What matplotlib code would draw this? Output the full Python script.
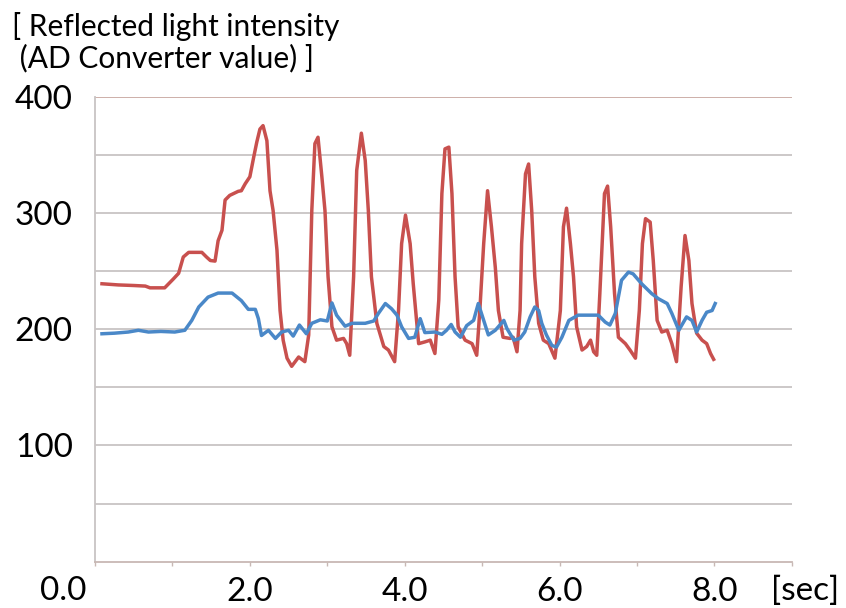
import matplotlib.pyplot as plt
plt.switch_backend('agg')
import numpy as np

plt.rcParams['font.family'] = ['Lato', 'DejaVu Sans']

# red curve : time [sec] / AD value
t_red = [0.09, 0.3, 0.5, 0.65, 0.71, 0.9, 1.01, 1.08, 1.14, 1.21, 1.38, 1.44, 1.49, 1.55,
         1.59, 1.64, 1.68, 1.74, 1.85, 1.89, 1.94, 2.0, 2.05, 2.09, 2.13, 2.17, 2.22, 2.26,
         2.30, 2.35, 2.39, 2.43, 2.48, 2.54, 2.63, 2.71, 2.76, 2.80, 2.84, 2.88, 2.93, 2.97,
         3.01, 3.06, 3.12, 3.21, 3.25, 3.29, 3.34, 3.38, 3.44, 3.49, 3.53, 3.57, 3.64, 3.73,
         3.79, 3.87, 3.92, 3.96, 4.01, 4.07, 4.11, 4.18, 4.26, 4.33, 4.39, 4.44, 4.48, 4.52,
         4.57, 4.61, 4.65, 4.69, 4.78, 4.87, 4.93, 4.97, 5.02, 5.07, 5.12, 5.17, 5.21, 5.27,
         5.36, 5.40, 5.45, 5.49, 5.51, 5.56, 5.60, 5.64, 5.68, 5.73, 5.79, 5.86, 5.94, 6.01,
         6.05, 6.09, 6.14, 6.18, 6.22, 6.29, 6.35, 6.40, 6.44, 6.48, 6.52, 6.58, 6.62, 6.66,
         6.71, 6.76, 6.85, 6.91, 6.98, 7.03, 7.07, 7.11, 7.17, 7.21, 7.26, 7.32, 7.39, 7.45,
         7.51, 7.57, 7.62, 7.67, 7.71, 7.77, 7.84, 7.90, 7.95, 7.99]
red = [239, 238, 237.5, 237, 235.5, 235.5, 243, 248, 262, 266, 266, 262, 259, 258.5,
       276, 285, 311, 315, 318.5, 319, 325, 331, 348, 361, 372, 375, 362, 319,
       302, 268, 216, 190.5, 175, 168, 176, 172, 195, 302, 359.5, 365, 331, 302,
       245, 202, 190.5, 192, 187.5, 177.5, 245, 336.5, 368.5, 345, 302, 245, 205, 185,
       182, 172, 216, 273.5, 298, 273.5, 239, 187.5, 189, 190.5, 179, 225, 316.5, 355,
       356.5, 316.5, 245, 202, 190.5, 187.5, 177.5, 216, 273.5, 319, 288, 253, 216, 193,
       192, 193, 180.5, 216, 273.5, 333.5, 342, 302, 245, 205, 190.5, 187.5, 175, 216,
       288, 304, 273.5, 245, 202, 182, 185, 190.5, 180.5, 177.5, 230.5, 316.5, 323, 288,
       230.5, 193, 187.5, 182, 175, 216, 273.5, 295, 292, 259, 207.5, 197.5, 199, 187.5,
       172, 236.5, 280.5, 259, 222, 196.5, 190.5, 187.5, 179, 174]

# blue curve
t_blue = [0.09, 0.25, 0.43, 0.56, 0.69, 0.85, 1.03, 1.16, 1.25, 1.34, 1.46, 1.59, 1.77, 1.89,
          1.98, 2.07, 2.11, 2.15, 2.24, 2.33, 2.41, 2.50, 2.56, 2.64, 2.73, 2.80, 2.91, 3.00,
          3.06, 3.12, 3.23, 3.32, 3.49, 3.60, 3.66, 3.75, 3.83, 3.90, 3.96, 4.05, 4.13, 4.20,
          4.26, 4.39, 4.48, 4.54, 4.60, 4.65, 4.72, 4.80, 4.89, 4.95, 5.02, 5.08, 5.17, 5.28,
          5.32, 5.41, 5.49, 5.55, 5.62, 5.68, 5.73, 5.77, 5.83, 5.90, 5.96, 6.03, 6.12, 6.24,
          6.50, 6.59, 6.65, 6.72, 6.80, 6.89, 6.95, 7.06, 7.19, 7.28, 7.39, 7.45, 7.54, 7.64,
          7.71, 7.77, 7.84, 7.90, 7.97, 8.01]
blue = [196, 196.5, 197.5, 199, 197.5, 198, 197.5, 199, 207.5, 219, 227.5, 231, 231, 224.5,
        217, 217, 209, 194.5, 199, 192, 197.5, 199, 194, 203.5, 196, 205, 208, 207,
        222.5, 212, 202.5, 205, 205, 207, 213.5, 222, 217.5, 212, 202, 192, 193, 209,
        197, 197.5, 195.5, 199, 204, 197.5, 193, 203, 207.5, 222, 207.5, 195, 199, 207.5,
        200.5, 190.5, 192, 197.5, 210.5, 219, 216, 205, 195, 186, 184.5, 193, 207.5, 212,
        212, 206, 203.5, 213.5, 242, 249, 247.5, 239, 230.5, 226, 222, 213.5, 199, 210.5,
        207.5, 197.5, 207.5, 214.5, 216, 222]

xlabels = ['', '', '2.0', '', '4.0', '', '6.0', '', '8.0', '']
ylabels = ['', '', '100', '', '200', '', '300', '', '400']

fig = plt.figure(figsize=(8.46, 6.08), dpi=100)
ax = fig.add_axes([0.1123, 0.0762, 0.8237, 0.765])

# grid lines, the top one is a bit darker / reddish
for v in np.arange(50, 401, 50):
    col = '#c9a9a3' if v == 400 else '#c8c4c4'
    ax.axhline(v, color=col, lw=1.3, zorder=1)

ax.plot(t_red, red, color='#c8504e', lw=2.5, solid_joinstyle='round', zorder=3)
ax.plot(t_blue, blue, color='#4a88c8', lw=2.5, solid_joinstyle='round', zorder=3)

ax.set_xlim(0, 9)
ax.set_ylim(0, 400)
ax.set_xticks(np.arange(0, 10))
ax.set_xticklabels(xlabels, fontsize=24)
ax.set_yticks(np.arange(0, 401, 50))
ax.set_yticklabels(ylabels, fontsize=24)
ax.tick_params(axis='y', length=0, pad=16)
ax.tick_params(axis='x', length=3, width=1, color='#c8b8b4', pad=8)

for s in ['top', 'right']:
    ax.spines[s].set_visible(False)
ax.spines['left'].set_color('#c8c4c4')
ax.spines['bottom'].set_color('#c8b8b4')
ax.spines['left'].set_linewidth(1.3)
ax.spines['bottom'].set_linewidth(1.3)

# "0.0" sits left of the axis, "[sec]" after the last label
fig.text(63/846, 1-600/608, '0.0', fontsize=24, ha='center', va='baseline')
fig.text(805/846, 1-600/608, '[sec]', fontsize=24, ha='center', va='baseline')

fig.text(12/846, 1-36/608, '[ Reflected light intensity', fontsize=21.5, va='baseline')
fig.text(12/846, 1-67/608, ' (AD Converter value) ]', fontsize=21.5, va='baseline')

plt.savefig('out.png', dpi=100)
plt.close()
